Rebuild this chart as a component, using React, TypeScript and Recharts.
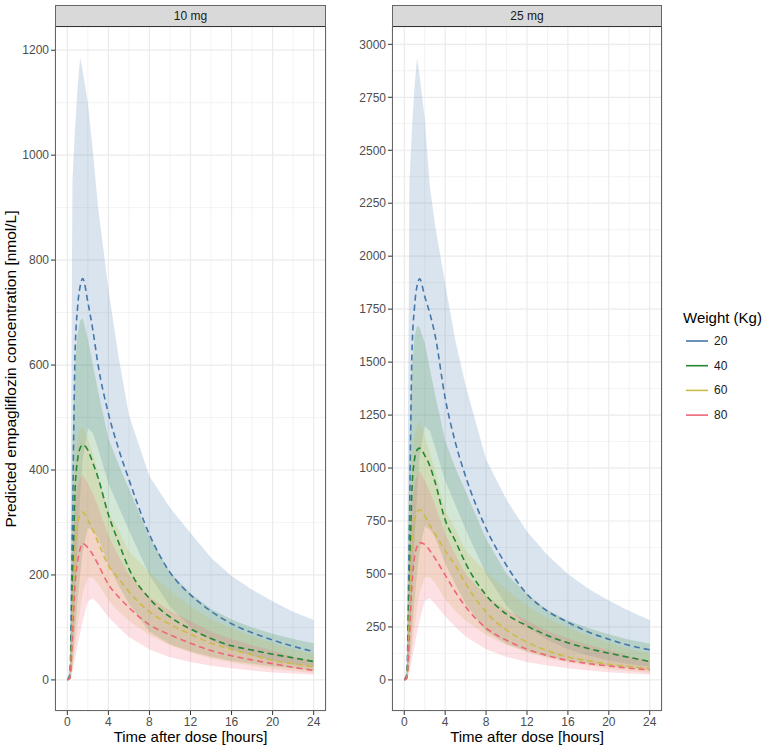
import { Area, CartesianGrid, ComposedChart, Line, XAxis, YAxis } from "recharts";

// time grid (hours after dose)
const TIME = [0, 0.25, 0.5, 0.75, 1, 1.25, 1.5, 2, 2.5, 3, 4, 5, 6, 8, 10, 12, 14, 16, 18, 20, 22, 24];
const WEIGHTS = ["20", "40", "60", "80"];
const COLORS = ["#4477AA", "#228833", "#CCBB44", "#EE6677"];

// 10 mg: median, 5th / 95th percentile per weight
const med10w20 = [0, 10, 290, 620, 710, 750, 765, 720, 665, 600, 508, 440, 382, 277, 205, 162, 131, 107, 90, 76, 64, 54];
const hi10w20 = [0, 30, 950, 1050, 1130, 1185, 1160, 1100, 1005, 900, 745, 615, 505, 388, 328, 280, 233, 198, 172, 150, 130, 114];
const lo10w20 = [0, 0, 60, 160, 260, 350, 420, 480, 470, 440, 375, 330, 285, 200, 140, 100, 75, 58, 46, 37, 30, 25];

const med10w40 = [0, 5, 170, 360, 420, 442, 448, 438, 413, 385, 315, 262, 212, 155, 120, 97, 79, 65, 57, 49, 42, 35];
const hi10w40 = [0, 15, 450, 600, 660, 685, 689, 650, 600, 550, 460, 410, 365, 272, 205, 165, 135, 115, 100, 88, 78, 70];
const lo10w40 = [0, 0, 30, 90, 150, 200, 245, 290, 285, 270, 220, 180, 145, 92, 68, 54, 44, 36, 31, 26, 22, 18];

const med10w60 = [0, 4, 110, 250, 295, 315, 320, 305, 285, 262, 218, 193, 168, 130, 106, 87, 70, 58, 48, 37, 31, 25];
const hi10w60 = [0, 10, 320, 420, 462, 478, 482, 460, 430, 395, 320, 285, 245, 205, 170, 140, 115, 98, 83, 70, 58, 50];
const lo10w60 = [0, 0, 20, 60, 100, 135, 165, 195, 195, 183, 152, 130, 113, 85, 66, 52, 41, 33, 27, 21, 17, 13];

const med10w80 = [0, 3, 80, 180, 225, 250, 260, 252, 238, 220, 182, 158, 138, 105, 86, 70, 56, 46, 38, 31, 24, 18];
const hi10w80 = [0, 8, 240, 330, 370, 385, 390, 375, 355, 330, 275, 235, 200, 158, 132, 112, 92, 78, 66, 56, 44, 36];
const lo10w80 = [0, 0, 15, 40, 65, 90, 112, 150, 155, 145, 120, 100, 82, 58, 43, 34, 27, 22, 18, 14, 12, 10];

// 25 mg
const med25w20 = [0, 25, 720, 1540, 1760, 1860, 1893, 1810, 1730, 1630, 1330, 1120, 960, 715, 540, 405, 325, 272, 226, 192, 163, 142];
const hi25w20 = [0, 75, 2350, 2600, 2800, 2935, 2850, 2650, 2330, 2150, 1870, 1600, 1390, 1040, 850, 700, 590, 500, 430, 375, 325, 283];
const lo25w20 = [0, 0, 150, 400, 650, 875, 1050, 1200, 1175, 1100, 940, 825, 710, 500, 350, 250, 188, 145, 115, 92, 75, 62];

const med25w40 = [0, 12, 430, 900, 1040, 1085, 1094, 1060, 1010, 935, 755, 655, 550, 400, 310, 255, 210, 175, 148, 126, 106, 87];
const hi25w40 = [0, 37, 1100, 1470, 1620, 1670, 1665, 1590, 1470, 1350, 1130, 1000, 890, 665, 500, 405, 330, 280, 245, 215, 190, 172];
const lo25w40 = [0, 0, 75, 225, 375, 500, 610, 725, 710, 675, 550, 450, 360, 230, 170, 135, 110, 90, 78, 65, 55, 45];

const med25w60 = [0, 10, 300, 650, 750, 790, 803, 775, 730, 690, 610, 540, 455, 320, 235, 178, 138, 108, 90, 74, 63, 55];
const hi25w60 = [0, 25, 800, 1050, 1155, 1195, 1225, 1150, 1075, 990, 800, 710, 610, 510, 425, 350, 290, 245, 208, 175, 145, 125];
const lo25w60 = [0, 0, 50, 150, 250, 340, 410, 485, 485, 460, 380, 325, 280, 212, 165, 130, 102, 82, 68, 52, 42, 33];

const med25w80 = [0, 8, 200, 450, 580, 630, 648, 640, 610, 575, 495, 415, 345, 245, 187, 145, 115, 92, 77, 66, 55, 47];
const hi25w80 = [0, 20, 600, 825, 925, 965, 990, 940, 890, 825, 690, 590, 500, 395, 330, 280, 230, 195, 165, 140, 110, 90];
const lo25w80 = [0, 0, 38, 100, 160, 225, 280, 375, 385, 360, 300, 250, 205, 145, 108, 85, 68, 55, 45, 36, 30, 25];

// axes
const X_TICKS = [0, 4, 8, 12, 16, 20, 24];
const X_MINOR = [2, 6, 10, 14, 18, 22];
const Y_TICKS_10 = [0, 200, 400, 600, 800, 1000, 1200];
const Y_MINOR_10 = [100, 300, 500, 700, 900, 1100];
const Y_TICKS_25 = [0, 250, 500, 750, 1000, 1250, 1500, 1750, 2000, 2250, 2500, 2750, 3000];
const Y_MINOR_25 = [125, 375, 625, 875, 1125, 1375, 1625, 1875, 2125, 2375, 2625, 2875];

const FONT = "'Liberation Sans', Arial, Helvetica, sans-serif";
const W = 767;
const H = 749;
const PLOT_TOP = 27;
const PLOT_BOTTOM = 711;
const Y_AXIS_W = 45;
const X_AXIS_H = 20;
const CHART_W = 340;

interface PanelProps {
  title: string;
  left: number;
  plotLeft: number;
  plotRight: number;
  meds: number[][];
  los: number[][];
  his: number[][];
  yTicks: number[];
  yMinor: number[];
  yDomain: [number, number];
}

function Panel({ title, left, plotLeft, plotRight, meds, los, his, yTicks, yMinor, yDomain }: PanelProps) {
  const rows = TIME.map((t, i) => {
    const row: Record<string, number | number[]> = { t };
    WEIGHTS.forEach((_, k) => {
      row[`r${k}`] = [los[k][i], his[k][i]];
      row[`m${k}`] = meds[k][i];
    });
    return row;
  });
  const tickStyle = { fontSize: 12, fill: "#4D4D4D", fontFamily: FONT };
  return (
    <div style={{ position: "absolute", left, top: 0, width: CHART_W, height: H }}>
      <ComposedChart
        width={CHART_W}
        height={H}
        data={rows}
        margin={{
          top: PLOT_TOP,
          right: CHART_W - plotRight,
          bottom: H - PLOT_BOTTOM - X_AXIS_H,
          left: plotLeft - Y_AXIS_W,
        }}
      >
        <CartesianGrid stroke="#EEEEEE" strokeWidth={0.7} horizontalValues={yMinor} verticalValues={X_MINOR} />
        <CartesianGrid stroke="#EBEBEB" strokeWidth={1.2} />
        <XAxis
          type="number"
          dataKey="t"
          domain={[-1.2, 25.2]}
          ticks={X_TICKS}
          interval={0}
          allowDataOverflow
          axisLine={false}
          tickSize={4}
          tickMargin={2}
          tickLine={{ stroke: "#333333" }}
          tick={tickStyle}
          height={X_AXIS_H}
        />
        <YAxis
          type="number"
          domain={yDomain}
          ticks={yTicks}
          interval={0}
          allowDataOverflow
          axisLine={false}
          tickSize={4}
          tickMargin={2}
          tickLine={{ stroke: "#333333" }}
          tick={tickStyle}
          width={Y_AXIS_W}
        />
        {WEIGHTS.map((w, k) => (
          <Area
            key={`r${w}`}
            dataKey={`r${k}`}
            type="linear"
            stroke="none"
            fill={COLORS[k]}
            fillOpacity={0.2}
            dot={false}
            activeDot={false}
            isAnimationActive={false}
          />
        ))}
        {WEIGHTS.map((w, k) => (
          <Line
            key={`m${w}`}
            dataKey={`m${k}`}
            type="monotone"
            stroke={COLORS[k]}
            strokeWidth={1.6}
            strokeDasharray="6 4"
            dot={false}
            activeDot={false}
            isAnimationActive={false}
          />
        ))}
      </ComposedChart>
      {/* facet strip */}
      <div
        style={{
          position: "absolute",
          left: plotLeft,
          top: 5,
          width: plotRight - plotLeft,
          height: PLOT_TOP - 5,
          boxSizing: "border-box",
          background: "#D9D9D9",
          border: "1px solid #666",
          borderBottom: "1px solid #333",
          fontFamily: FONT,
          fontSize: 12,
          color: "#1A1A1A",
          display: "flex",
          alignItems: "center",
          justifyContent: "center",
        }}
      >
        {title}
      </div>
      {/* panel border */}
      <div
        style={{
          position: "absolute",
          left: plotLeft,
          top: PLOT_TOP - 1,
          width: plotRight - plotLeft,
          height: PLOT_BOTTOM - PLOT_TOP + 1,
          boxSizing: "border-box",
          border: "1px solid #666",
          borderTop: "none",
          pointerEvents: "none",
        }}
      />
      <div
        style={{
          position: "absolute",
          left: plotLeft,
          width: plotRight - plotLeft,
          top: 728,
          textAlign: "center",
          fontFamily: FONT,
          fontSize: 15,
          color: "#000",
        }}
      >
        Time after dose [hours]
      </div>
    </div>
  );
}

export default function App() {
  return (
    <div style={{ position: "absolute", left: 0, top: 0, width: W, height: H, background: "#fff", overflow: "hidden" }}>
      <Panel
        title="10 mg"
        left={0}
        plotLeft={55}
        plotRight={326}
        meds={[med10w20, med10w40, med10w60, med10w80]}
        los={[lo10w20, lo10w40, lo10w60, lo10w80]}
        his={[hi10w20, hi10w40, hi10w60, hi10w80]}
        yTicks={Y_TICKS_10}
        yMinor={Y_MINOR_10}
        yDomain={[-59.25, 1244.25]}
      />
      <Panel
        title="25 mg"
        left={340}
        plotLeft={52}
        plotRight={322}
        meds={[med25w20, med25w40, med25w60, med25w80]}
        los={[lo25w20, lo25w40, lo25w60, lo25w80]}
        his={[hi25w20, hi25w40, hi25w60, hi25w80]}
        yTicks={Y_TICKS_25}
        yMinor={Y_MINOR_25}
        yDomain={[-146.75, 3081.75]}
      />
      <svg width={W} height={H} style={{ position: "absolute", left: 0, top: 0, pointerEvents: "none" }}>
        <text
          transform="translate(16,369) rotate(-90)"
          textAnchor="middle"
          fontFamily={FONT}
          fontSize={15.5}
          fill="#000"
        >
          Predicted empagliflozin concentration [nmol/L]
        </text>
        <text x={683} y={323} fontFamily={FONT} fontSize={15} fill="#000">
          Weight (Kg)
        </text>
        {WEIGHTS.map((w, k) => (
          <g key={w}>
            <line x1={686} x2={708} y1={341 + k * 24.7} y2={341 + k * 24.7} stroke={COLORS[k]} strokeWidth={1.6} />
            <text x={714} y={345 + k * 24.7} fontFamily={FONT} fontSize={12} fill="#1A1A1A">
              {w}
            </text>
          </g>
        ))}
      </svg>
    </div>
  );
}
